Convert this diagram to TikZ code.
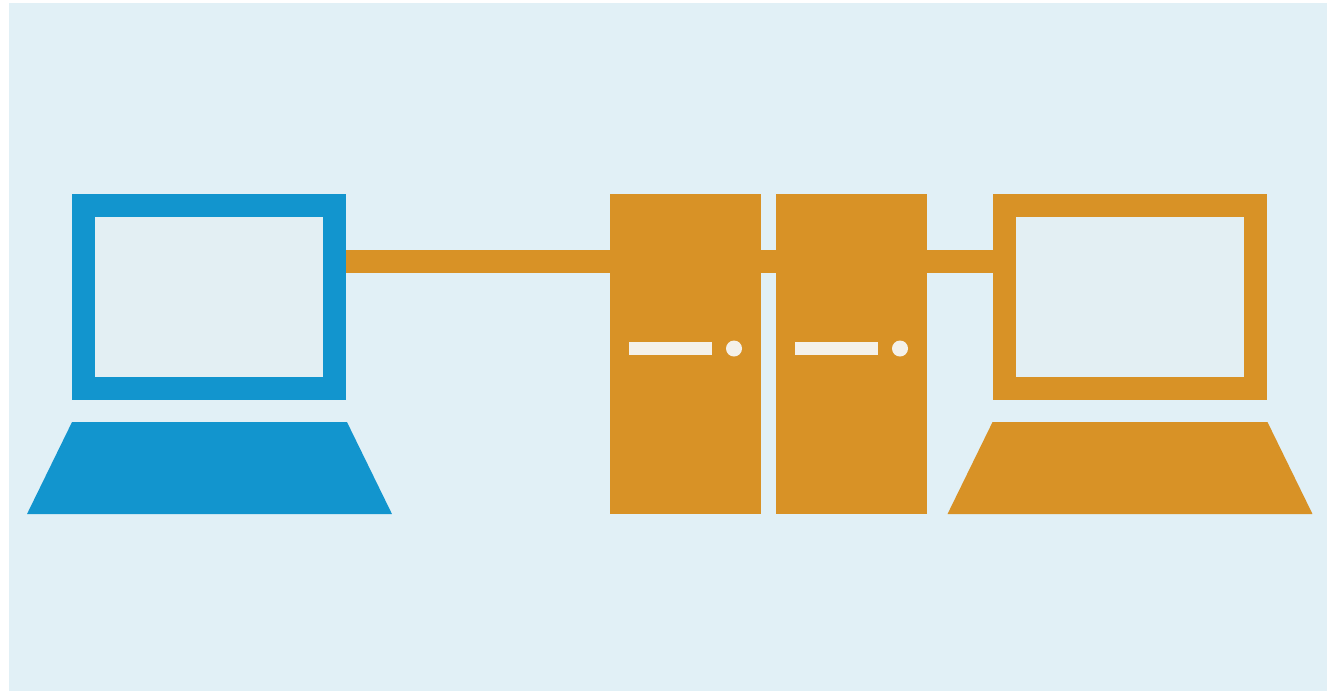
\documentclass[tikz,border=0pt]{standalone}
\usepackage{xcolor}
\usetikzlibrary{shapes.geometric}
\definecolor{linkblue}{HTML}{1295CE}
\definecolor{serverorange}{HTML}{D89226}
\definecolor{paneblue}{HTML}{E1F0F6}
\definecolor{glassblue}{HTML}{E3EFF3}
\definecolor{slotwhite}{HTML}{F4F1EA}
\tikzset{
  pane/.style={
    fill=paneblue,
    draw=none,
    inner sep=0pt,
    outer sep=0pt,
    minimum width=26.36cm,
    minimum height=13.76cm
  },
  screen/.style={
    draw=#1,
    fill=glassblue,
    line width=0.46cm,
    inner sep=0pt,
    minimum width=5.02cm,
    minimum height=3.66cm
  },
  keyboard/.style={
    trapezium,
    trapezium stretches=true,
    trapezium left angle=80.7,
    trapezium right angle=80.7,
    fill=#1,
    inner sep=1pt,
    outer sep=0pt,
    minimum width=7.3cm,
    minimum height=1.84cm
  },
  server/.style={
    fill=serverorange,
    inner sep=0pt,
    outer sep=0pt,
    minimum width=3.02cm,
    minimum height=6.4cm
  },
  slot/.style={
    fill=slotwhite,
    inner sep=0pt,
    outer sep=0pt,
    minimum width=1.66cm,
    minimum height=0.26cm
  },
  led/.style={
    circle,
    fill=slotwhite,
    inner sep=0pt,
    outer sep=0pt,
    minimum size=0.32cm
  },
  cable/.style={
    line width=0.46cm,
    draw=serverorange
  }
}
\begin{document}
\begin{tikzpicture}[x=0.02cm,y=-0.02cm]
    \useasboundingbox (0,0) rectangle (1327,691);
    \fill[white] (0,0) rectangle (1327,691);
    \node[pane] (back) at (668,347) {};
    \node[screen=linkblue] (lscreen) at (209,297) {};
    \node[keyboard=linkblue] (lbase) at (209.5,468) {};
    \node[server] (srva) at (685.5,354) {};
    \node[server] (srvb) at (851.5,354) {};
    \node[screen=serverorange] (rscreen) at (1130,297) {};
    \node[keyboard=serverorange] (rbase) at (1130,468) {};
    \node[slot] (slota) at (670.5,348.5) {};
    \node[led] (leda) at (734,348.5) {};
    \node[slot] (slotb) at (836.5,348.5) {};
    \node[led] (ledb) at (900,348.5) {};
    \coordinate (cabley) at (0,261.5);
    \foreach \a/\b in {lscreen.east/srva.west,srva.east/srvb.west,srvb.east/rscreen.west}
      \draw[cable] (\a |- cabley) -- (\b |- cabley);
  \end{tikzpicture}
\end{document}
